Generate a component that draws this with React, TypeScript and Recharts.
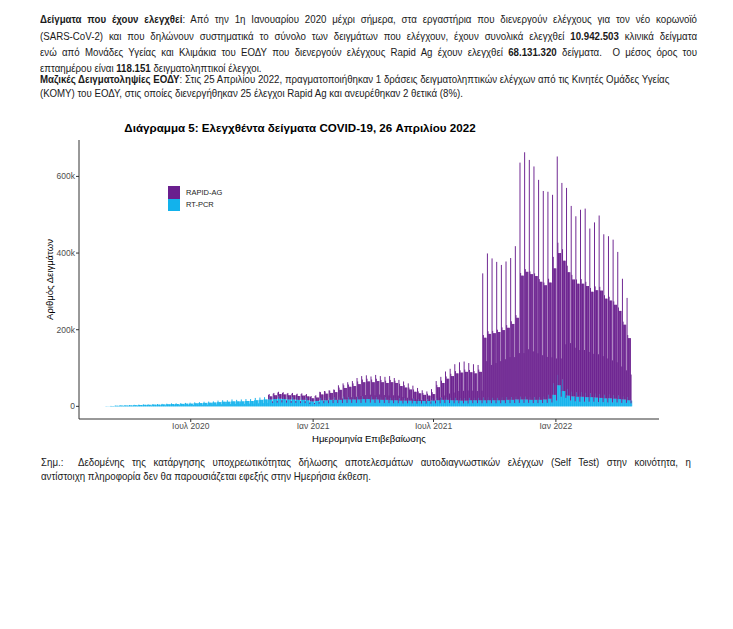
import React, { useLayoutEffect, useRef, useState } from "react";
import { BarChart, Bar, XAxis, YAxis } from "recharts";

// Weekly estimates, in thousands of samples.
// Week 0 starts Monday 24 Feb 2020; the last bar is Monday 25 Apr 2022 (day 791).
const lastDay = 791;

const pcrPeak = [
  0.6, 1.2, 2, 2.8, 3, 3.4, 4, 4.6, 5, 5.2,
  5.8, 6, 6.5, 7, 7.8, 8, 8.4, 9, 9.5, 10.5,
  11, 12, 12.5, 13, 15, 16, 16, 18, 17, 18,
  19, 19, 22, 23, 24, 24, 25, 26, 25, 24,
  24, 23, 23, 22, 19, 20, 22, 22, 23, 23,
  23, 25, 24, 25, 25, 26, 26, 25, 24, 23,
  23, 22, 22, 21, 21, 20, 20, 19, 19, 19,
  20, 22, 23, 23, 22, 22, 21, 21, 22, 22,
  22, 23, 23, 22, 22, 23, 24, 24, 25, 25,
  25, 24, 24, 24, 25, 30, 60, 82, 70, 45,
  38, 36, 37, 35, 34, 33, 32, 30, 31, 29,
  28, 26, 24, 15,
];
const pcrMid = [
  0.3, 0.8, 1.5, 2, 2.2, 2.5, 3, 3.5, 4, 4,
  4.5, 4.5, 5, 5.5, 6, 6, 6.5, 7, 7, 8,
  8.5, 9, 9.5, 10, 11, 12, 12, 13, 13, 13,
  14, 14, 16, 17, 18, 18, 19, 20, 19, 18,
  18, 17, 17, 16, 13, 14, 16, 16, 17, 17,
  17, 18, 18, 18, 18, 19, 19, 18, 18, 17,
  17, 16, 16, 15, 15, 15, 14, 14, 14, 14,
  15, 16, 17, 17, 16, 16, 15, 15, 16, 16,
  16, 16, 16, 16, 16, 16, 17, 17, 18, 18,
  18, 17, 17, 17, 18, 20, 30, 55, 40, 28,
  26, 25, 25, 24, 24, 23, 22, 21, 21, 20,
  19, 18, 16, 15,
];
const pcrLow = [
  0.1, 0.4, 0.8, 1, 1.1, 1.2, 1.5, 1.8, 2, 2,
  2.2, 2.3, 2.5, 2.8, 3, 3, 3.2, 3.5, 3.5, 4,
  4.2, 4.5, 4.8, 5, 5.5, 6, 6, 6.5, 6.5, 6.5,
  7, 7, 8, 8.5, 9, 9, 9.5, 10, 9.5, 9,
  9, 8.5, 8.5, 6, 6, 7, 8, 8, 8.5, 8.5,
  8.5, 9, 9, 9, 9, 9.5, 9.5, 9, 9, 8.5,
  8.5, 8, 8, 7.5, 7.5, 7.5, 7, 7, 7, 7,
  7.5, 8, 8.5, 8.5, 8, 8, 7.5, 7.5, 8, 8,
  8, 8, 8, 8, 8, 8, 8.5, 8.5, 9, 9,
  9, 8.5, 8.5, 8.5, 9, 10, 15, 25, 22, 15,
  13, 12, 12, 12, 12, 11, 11, 10, 10, 10,
  9, 9, 8, 0,
];

const rapidPeak = [
  0, 0, 0, 0, 0, 0, 0, 0, 0, 0,
  0, 0, 0, 0, 0, 0, 0, 0, 0, 0,
  0, 0, 0, 0, 0, 0, 0, 0, 0, 0,
  0, 0, 0, 0, 0, 12, 14, 16, 16, 15,
  15, 14, 15, 14, 12, 13, 22, 24, 25, 27,
  38, 42, 45, 48, 56, 60, 62, 60, 64, 62,
  60, 63, 58, 54, 50, 45, 40, 34, 28, 25,
  30, 50, 60, 74, 82, 94, 100, 102, 97, 94,
  92, 331, 383, 370, 361, 353, 361, 370, 400, 618,
  645, 626, 609, 574, 544, 540, 522, 597, 543, 542,
  497, 471, 488, 492, 440, 457, 476, 428, 423, 415,
  384, 315, 267, 0,
];
const rapidMid = [
  0, 0, 0, 0, 0, 0, 0, 0, 0, 0,
  0, 0, 0, 0, 0, 0, 0, 0, 0, 0,
  0, 0, 0, 0, 0, 0, 0, 0, 0, 0,
  0, 0, 0, 0, 0, 8, 10, 12, 12, 11,
  11, 10, 11, 10, 8, 9, 15, 17, 18, 20,
  26, 30, 33, 35, 40, 44, 46, 45, 48, 46,
  44, 47, 45, 38, 34, 29, 24, 20, 16, 14,
  17, 34, 44, 55, 63, 70, 73, 75, 73, 70,
  74, 163, 173, 175, 178, 183, 188, 198, 213, 323,
  333, 328, 323, 308, 298, 303, 330, 345, 340, 322,
  305, 295, 295, 290, 275, 280, 280, 260, 255, 245,
  230, 195, 162, 47,
];
const rapidLow = [
  0, 0, 0, 0, 0, 0, 0, 0, 0, 0,
  0, 0, 0, 0, 0, 0, 0, 0, 0, 0,
  0, 0, 0, 0, 0, 0, 0, 0, 0, 0,
  0, 0, 0, 0, 0, 4, 5, 6, 6, 5,
  5, 5, 5, 4, 3, 4, 7, 8, 8, 9,
  12, 14, 15, 16, 18, 20, 21, 20, 22, 21,
  20, 21, 20, 17, 15, 13, 11, 9, 7, 6,
  8, 15, 20, 25, 28, 32, 33, 34, 33, 32,
  33, 110, 100, 105, 110, 115, 120, 120, 130, 130,
  140, 135, 130, 125, 120, 118, 110, 100, 140, 150,
  140, 135, 135, 130, 125, 125, 120, 115, 110, 105,
  95, 85, 75, 0,
];

// which weekly level each weekday (Mon..Sun) shows
const rapidWeekday = ["peak", "mid", "mid", "mid", "mid", "mid", "low"];
const pcrWeekday = ["mid", "peak", "mid", "mid", "mid", "mid", "low"];

const dateTicks = [128, 312, 493, 677];
const dateLabels = ["Ιουλ 2020", "Ιαν 2021", "Ιουλ 2021", "Ιαν 2022"];
const countTicks = [0, 200, 400, 600];

const pick = (level: string, w: number, peak: number[], mid: number[], low: number[]) =>
  level === "peak" ? peak[w] : level === "low" ? low[w] : mid[w];

const data: { day: number; pcr: number; rapid: number }[] = [];
for (let d = 0; d <= lastDay; d++) {
  const w = Math.floor(d / 7);
  const k = d % 7;
  data.push({
    day: d,
    pcr: pick(pcrWeekday[k], w, pcrPeak, pcrMid, pcrLow),
    rapid: pick(rapidWeekday[k], w, rapidPeak, rapidMid, rapidLow),
  });
}

const PURPLE = "#6a1f8e";
const CYAN = "#12b2ec";
const textFont = '"Liberation Sans", Arial, sans-serif';
const chartFont = '"Liberation Sans", Arial, sans-serif';

const lastLineText = "(ΚΟΜΥ) του ΕΟΔΥ, στις οποίες διενεργήθηκαν 25 έλεγχοι Rapid Ag και ανευρέθηκαν 2 θετικά (8%).";

// one day is narrower than a pixel; keep each bar ~1px so the fill stays solid
const DayBar = (props: any) => {
  const { x, y, width, height, fill } = props;
  if (!height || height <= 0) return null;
  const w = 0.95;
  return <rect x={x + width / 2 - w / 2} y={y} width={w} height={height} fill={fill} />;
};

export default function App() {
  // squeeze the document text to the narrow face of the reference
  const probe = useRef<HTMLSpanElement>(null);
  const [sx, setSx] = useState(0.86);
  useLayoutEffect(() => {
    if (probe.current) setSx(423 / probe.current.getBoundingClientRect().width);
  }, []);

  const line = (top: number, justify: boolean, width: number, content: React.ReactNode, left = 40) => (
    <div
      style={{
        position: "absolute",
        left,
        top: top - 7,
        width: width / sx,
        height: 14,
        lineHeight: "14px",
        whiteSpace: "nowrap",
        transform: `scaleX(${sx})`,
        transformOrigin: "0 0",
        textAlign: justify ? "justify" : "left",
        textAlignLast: justify ? "justify" : "left",
      }}
    >
      {content}
    </div>
  );

  return (
    <div
      style={{
        position: "absolute",
        left: 0,
        top: 0,
        width: 733,
        height: 629,
        background: "#fff",
        overflow: "hidden",
        fontFamily: textFont,
        fontSize: 10.5,
        color: "#1a1a1a",
      }}
    >
      <span ref={probe} style={{ position: "absolute", visibility: "hidden", whiteSpace: "nowrap", top: 0, left: 0 }}>
        {lastLineText}
      </span>

      {line(19, true, 657, <><b>Δείγματα που έχουν ελεγχθεί</b>: Από την 1η Ιανουαρίου 2020 μέχρι σήμερα, στα εργαστήρια που διενεργούν ελέγχους για τον νέο κορωνοϊό</>)}
      {line(36, true, 657, <>(SARS-CoV-2) και που δηλώνουν συστηματικά το σύνολο των δειγμάτων που ελέγχουν, έχουν συνολικά ελεγχθεί <b>10.942.503</b> κλινικά δείγματα</>)}
      {line(52, true, 657, <>ενώ από Μονάδες Υγείας και Κλιμάκια του ΕΟΔΥ που διενεργούν ελέγχους Rapid Ag έχουν ελεγχθεί <b>68.131.320</b> δείγματα.&nbsp; Ο μέσος όρος του</>)}
      {line(68, false, 657, <>επταημέρου είναι <b>118.151</b> δειγματοληπτικοί έλεγχοι.</>)}
      {line(79, false, 657, <><b>Μαζικές Δειγματοληψίες ΕΟΔΥ</b>: Στις 25 Απριλίου 2022, πραγματοποιήθηκαν 1 δράσεις δειγματοληπτικών ελέγχων από τις Κινητές Ομάδες Υγείας</>)}
      {line(93, false, 657, <>{lastLineText}</>)}

      <div
        style={{
          position: "absolute",
          left: 0,
          top: 120,
          width: 600,
          textAlign: "center",
          fontFamily: chartFont,
          fontWeight: "bold",
          fontSize: 11.6,
          lineHeight: "15px",
          color: "#000",
        }}
      >
        Διάγραμμα 5: Ελεγχθέντα δείγματα COVID-19, 26 Απριλίου 2022
      </div>

      <div style={{ position: "absolute", left: 0, top: 110 }}>
        <BarChart
          width={700}
          height={340}
          data={data}
          margin={{ top: 30, right: 41, bottom: 0, left: 0 }}
          barCategoryGap={0}
          barGap={0}
          style={{ fontFamily: chartFont }}
        >
          <XAxis
            dataKey="day"
            type="number"
            domain={[-40, 832]}
            ticks={dateTicks}
            tickFormatter={(v: number) => dateLabels[dateTicks.indexOf(v)] ?? ""}
            allowDataOverflow
            height={31}
            stroke="#333"
            tickSize={3}
            tickMargin={1}
            tick={{ fill: "#4d4d4d", fontSize: 8.5 }}
            label={{ value: "Ημερομηνία Επιβεβαίωσης", position: "insideBottom", offset: 8, fill: "#000", fontSize: 9.5 }}
          />
          <YAxis
            type="number"
            domain={[-33, 695]}
            ticks={countTicks}
            tickFormatter={(v: number) => (v === 0 ? "0" : `${v}k`)}
            allowDataOverflow
            width={79}
            stroke="#333"
            tickSize={3}
            tickMargin={1}
            tick={{ fill: "#4d4d4d", fontSize: 8.5 }}
            label={{
              value: "Αριθμός Δειγμάτων",
              angle: -90,
              position: "insideLeft",
              offset: 50,
              textAnchor: "middle",
              style: { textAnchor: "middle" },
              fill: "#000",
              fontSize: 9.5,
            }}
          />
          <Bar dataKey="pcr" stackId="a" fill={CYAN} name="RT-PCR" shape={DayBar} isAnimationActive={false} />
          <Bar dataKey="rapid" stackId="a" fill={PURPLE} name="RAPID-AG" shape={DayBar} isAnimationActive={false} />
        </BarChart>
      </div>

      {/* legend, inside the plot at top left */}
      <div style={{ position: "absolute", left: 168, top: 186, fontFamily: chartFont, fontSize: 7.5, color: "#222" }}>
        {[
          { label: "RAPID-AG", color: PURPLE },
          { label: "RT-PCR", color: CYAN },
        ].map((it) => (
          <div key={it.label} style={{ display: "flex", alignItems: "center", height: 12.5 }}>
            <span style={{ display: "inline-block", width: 12, height: 12.5, background: it.color, marginRight: 6 }} />
            <span>{it.label}</span>
          </div>
        ))}
      </div>

      {line(462, true, 650, <>Σημ.:&nbsp; Δεδομένης της κατάργησης υποχρεωτικότητας δήλωσης αποτελεσμάτων αυτοδιαγνωστικών ελέγχων (Self Test) στην κοινότητα, η</>, 41)}
      {line(476, false, 650, <>αντίστοιχη πληροφορία δεν θα παρουσιάζεται εφεξής στην Ημερήσια έκθεση.</>, 41)}
    </div>
  );
}
